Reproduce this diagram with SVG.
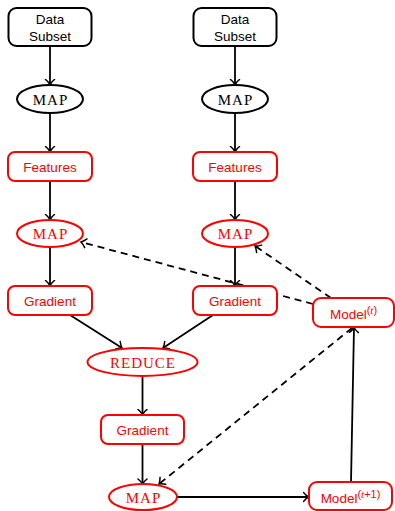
<svg xmlns="http://www.w3.org/2000/svg" width="395" height="511" viewBox="0 0 395 511">
<style>
.box{fill:#fff;stroke-width:2}
.blk{stroke:#000}
.red{stroke:#ff0000}
.sans{font-family:"Liberation Sans","DejaVu Sans",sans-serif;font-size:13.5px;text-anchor:middle}
.serif{font-family:"Liberation Serif","DejaVu Serif",serif;font-size:15px;letter-spacing:1px;text-anchor:middle}
.sup{font-size:11px}
.tb{fill:#000}
.tr{fill:#ff0000}
.e{fill:none;stroke:#000;stroke-width:1.8}
.d{stroke-dasharray:7 5}
</style>
<defs>
<marker id="arr" markerWidth="12" markerHeight="12" viewBox="-6 -6 12 12" refX="0" refY="0" orient="auto" markerUnits="userSpaceOnUse">
<path d="M-5,-4.5 C-3,-2 -1,-0.6 0,0 C-1,0.6 -3,2 -5,4.5" fill="none" stroke="#000" stroke-width="1.5" stroke-linecap="round"/>
</marker>
</defs>
<g id="connectors">
<line class="e" x1="50" y1="46" x2="50" y2="84.5" marker-end="url(#arr)"/>
<line class="e" x1="50" y1="113" x2="50" y2="151.5" marker-end="url(#arr)"/>
<line class="e" x1="50" y1="181" x2="50" y2="219.5" marker-end="url(#arr)"/>
<line class="e" x1="50" y1="247" x2="50" y2="285.5" marker-end="url(#arr)"/>
<line class="e" x1="235" y1="46" x2="235" y2="84.5" marker-end="url(#arr)"/>
<line class="e" x1="235" y1="113" x2="235" y2="151.5" marker-end="url(#arr)"/>
<line class="e" x1="235" y1="181" x2="235" y2="219.5" marker-end="url(#arr)"/>
<line class="e" x1="235" y1="247" x2="235" y2="285.5" marker-end="url(#arr)"/>
<line class="e" x1="70" y1="315" x2="122" y2="348" marker-end="url(#arr)"/>
<line class="e" x1="213" y1="315" x2="163" y2="348" marker-end="url(#arr)"/>
<line class="e" x1="142.5" y1="376" x2="142.5" y2="414.5" marker-end="url(#arr)"/>
<line class="e" x1="142.5" y1="444" x2="142.5" y2="484" marker-end="url(#arr)"/>
<line class="e" x1="177" y1="497" x2="308.5" y2="497" marker-end="url(#arr)"/>
<line class="e" x1="351" y1="482" x2="354" y2="327.5" marker-end="url(#arr)"/>
<line class="e d" x1="313" y1="304" x2="81" y2="242" marker-end="url(#arr)"/>
<line class="e d" x1="331" y1="298" x2="255" y2="246" marker-end="url(#arr)"/>
<line class="e d" x1="352" y1="328" x2="159" y2="484" marker-end="url(#arr)"/>
</g>
<g id="data1"><rect class="box blk" x="8.5" y="8" width="83" height="38" rx="8"/><text class="sans tb" x="50" y="23.5">Data</text><text class="sans tb" x="50" y="41">Subset</text></g>
<g id="data2"><rect class="box blk" x="193.5" y="8" width="83" height="38" rx="8"/><text class="sans tb" x="235" y="23.5">Data</text><text class="sans tb" x="235" y="41">Subset</text></g>
<g id="map1"><ellipse class="box blk" cx="50" cy="99" rx="33" ry="14"/><text class="serif tb" x="50.5" y="104.5">MAP</text></g>
<g id="map2"><ellipse class="box blk" cx="235" cy="99" rx="33" ry="14"/><text class="serif tb" x="235.5" y="104.5">MAP</text></g>
<g id="feat1"><rect class="box red" x="8" y="152" width="84" height="29" rx="7"/><text class="sans tr" x="50" y="171.5">Features</text></g>
<g id="feat2"><rect class="box red" x="193" y="152" width="84" height="29" rx="7"/><text class="sans tr" x="235" y="171.5">Features</text></g>
<g id="rmap1"><ellipse class="box red" cx="50" cy="233.5" rx="33" ry="13.5"/><text class="serif tr" x="50.5" y="239">MAP</text></g>
<g id="rmap2"><ellipse class="box red" cx="235" cy="233.5" rx="33" ry="13.5"/><text class="serif tr" x="235.5" y="239">MAP</text></g>
<g id="grad1"><rect class="box red" x="8" y="286" width="84" height="29" rx="7"/><text class="sans tr" x="50" y="305.5">Gradient</text></g>
<g id="grad2"><rect class="box red" x="193" y="286" width="84" height="29" rx="7"/><text class="sans tr" x="235" y="305.5">Gradient</text></g>
<g id="modelt"><rect class="box red" x="313" y="298" width="81" height="29" rx="8"/><text class="sans tr" x="353.5" y="318.5">Model<tspan class="sup" dy="-5">(</tspan><tspan class="sup" font-style="italic" font-family="Liberation Serif,serif">t</tspan><tspan class="sup">)</tspan></text></g>
<g id="reduce"><ellipse class="box red" cx="142.5" cy="362" rx="55" ry="14"/><text class="serif tr" x="143" y="367.5">REDUCE</text></g>
<g id="grad3"><rect class="box red" x="101" y="415" width="83" height="29" rx="7"/><text class="sans tr" x="142.5" y="434.5">Gradient</text></g>
<g id="map3"><ellipse class="box red" cx="143" cy="497" rx="34" ry="13"/><text class="serif tr" x="143.5" y="502.5">MAP</text></g>
<g id="modelt1"><rect class="box red" x="309" y="482" width="83" height="28" rx="8"/><text class="sans tr" x="350.5" y="502.5">Model<tspan class="sup" dy="-5">(</tspan><tspan class="sup" font-style="italic" font-family="Liberation Serif,serif">t</tspan><tspan class="sup">+1)</tspan></text></g>
</svg>
